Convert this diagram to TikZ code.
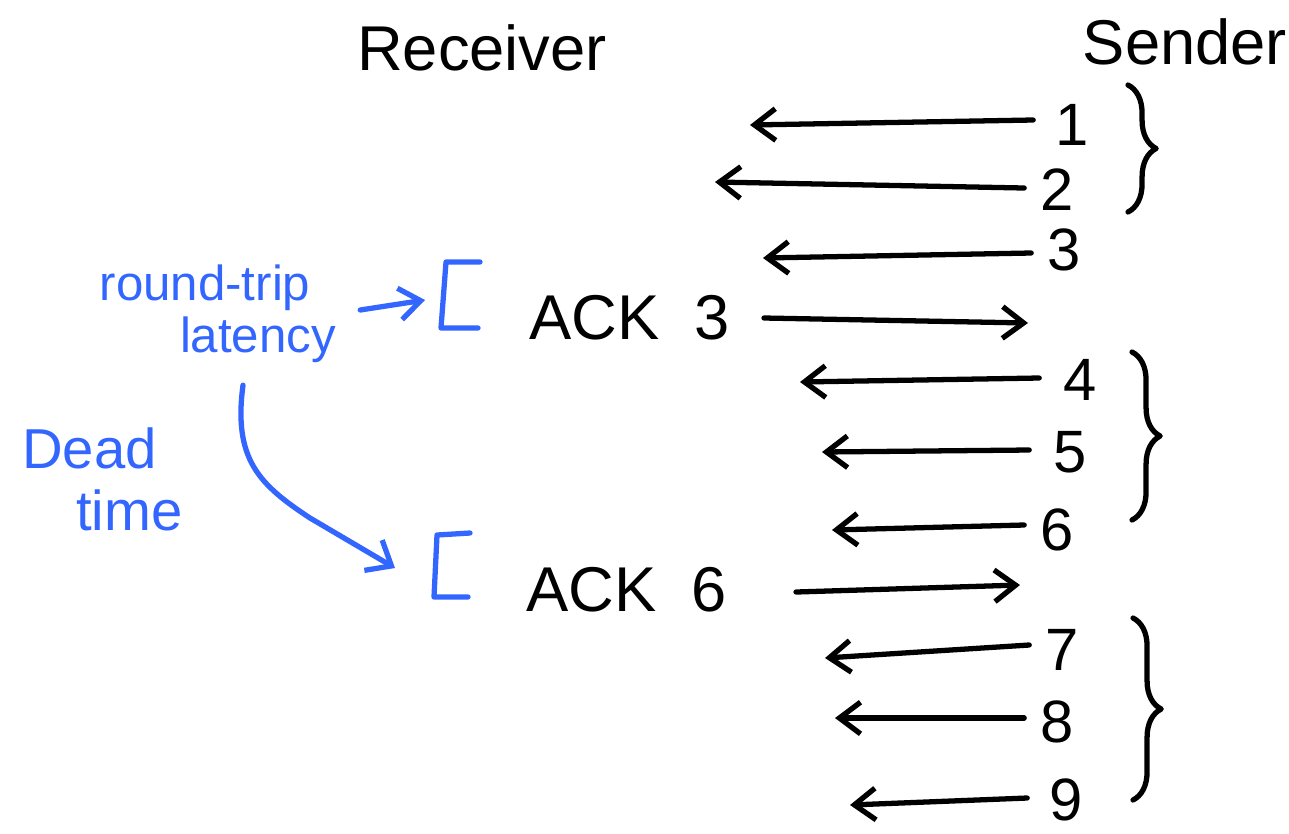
\documentclass[tikz,border=0pt]{standalone}
\usepackage{fontspec}
\setmainfont{Liberation Sans}
\usetikzlibrary{arrows.meta,decorations.pathreplacing}
\definecolor{penblue}{RGB}{51,102,255}
\tikzset{
  ink/.style={line width=1.5pt, line cap=round, line join=round},
  tip/.style={-{Straight Barb[length=6pt,width=9pt,line width=1.5pt]}},
  msg/.style={ink, tip},
  num/.style={font=\fontsize{17}{19}\selectfont, inner sep=1pt},
  lbl/.style={font=\fontsize{18}{20}\selectfont, inner sep=1pt},
  note/.style={font=\fontsize{14}{16}\selectfont, text=penblue, inner sep=1pt},
  bignote/.style={font=\fontsize{16}{18}\selectfont, text=penblue, inner sep=1pt},
  bluepen/.style={ink, draw=penblue},
  grp/.style={ink, decorate, decoration={brace, amplitude=8pt}},
}
\begin{document}
\begin{tikzpicture}[x=0.01cm, y=-0.01cm]
\useasboundingbox (0,0) rectangle (1289,833);

% headers
\node[lbl] (recv) at (482,48) {Receiver};
\node[lbl] (send) at (1185,42) {Sender};

% sender packet numbers
\node[num] (n1) at (1072,125) {1};
\node[num] (n2) at (1057,190) {2};
\node[num] (n3) at (1064,250) {3};
\node[num] (n4) at (1080,380) {4};
\node[num] (n5) at (1070,452) {5};
\node[num] (n6) at (1057,530) {6};
\node[num] (n7) at (1062,650) {7};
\node[num] (n8) at (1057,722) {8};
\node[num] (n9) at (1066,800) {9};

% arrow ends on receiver side
\coordinate (r1) at (750,125);
\coordinate (r2) at (715,182);
\coordinate (r3) at (763,258);
\coordinate (r4) at (800,382);
\coordinate (r5) at (822,452);
\coordinate (r6) at (832,530);
\coordinate (r7) at (825,658);
\coordinate (r8) at (835,718);
\coordinate (r9) at (850,805);

\draw[msg] (n1.west) ++(-18,-5) coordinate (s1) -- (r1);
\draw[msg] (n2.west) ++(-12,-2) coordinate (s2) -- (r2);
\draw[msg] (n3.west) ++(-12,3) coordinate (s3) -- (r3);
\draw[msg] (n4.west) ++(-20,-2) coordinate (s4) -- (r4);
\draw[msg] (n5.west) ++(-20,-2) coordinate (s5) -- (r5);
\draw[msg] (n6.west) ++(-12,-5) coordinate (s6) -- (r6);
\draw[msg] (n7.west) ++(-12,-5) coordinate (s7) -- (r7);
\draw[msg] (n8.west) ++(-12,-4) coordinate (s8) -- (r8);
\draw[msg] (n9.west) ++(-18,-2) coordinate (s9) -- (r9);

% acks
\node[lbl, anchor=west] (ack3) at (525,318) {ACK \ 3};
\node[lbl, anchor=west] (ack6) at (522,590) {ACK \ 6};
\coordinate (a3) at (1028,323);
\coordinate (a6) at (1020,585);
\draw[msg] (ack3.east) ++(30,0) -- (a3);
\draw[msg] (ack6.east) ++(65,2) -- (a6);

% sender braces
\draw[grp] (1128,85) -- (1128,212);
\draw[grp] (1132,352) -- (1132,520);
\draw[grp] (1133,618) -- (1133,800);

% blue brackets
\draw[bluepen] (480,262) -- (446,262) -- (441,328) -- (478,328);
\coordinate (b1) at (425,300);
\draw[bluepen] (470,533) -- (437,535) -- (434,597) -- (468,597);
\coordinate (b2) at (395,568);

% blue notes
\node[note] (rt) at (205,288) {round-trip};
\node[note] (lat) at (258,340) {latency};
\node[bignote, anchor=west] (dead) at (18,448) {Dead};
\node[bignote, anchor=west] (tm) at (72,510) {time};

\draw[bluepen, tip] (lat.east) ++(20,-30) -- (b1);
\draw[bluepen, -{Straight Barb[length=6pt,width=10pt,line width=1.5pt]}]
  (lat.south) ++(-15,18) .. controls (233,460) and (260,485) .. (310,518) -- (b2);
\end{tikzpicture}
\end{document}
